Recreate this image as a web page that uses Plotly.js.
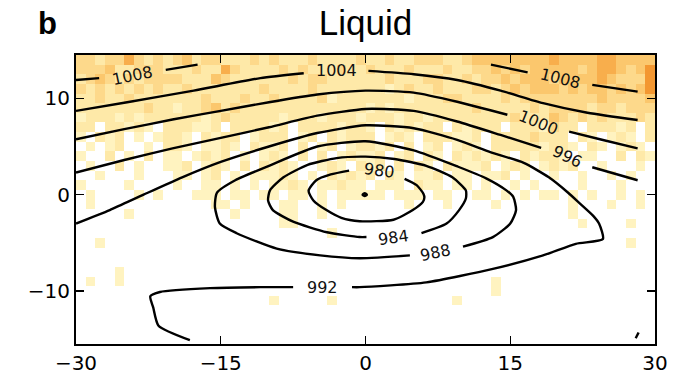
<!DOCTYPE html>
<html><head><meta charset="utf-8">
<script src="https://cdn.plot.ly/plotly-3.0.1.min.js"></script>
<style>html,body{margin:0;padding:0;background:#fff}</style>
</head><body>
<div id="chart" style="width:675px;height:382px"></div>
<script>
// Liquid occurrence levels (0 = none .. 6 = most), one string per row, top row y=14 down to y=-15; columns x=-30..30 (1 deg cells)
const Z0 = "0000000000 0000000000 0000000000 0000000000 0000000000 0000000000";
const liquidRows = [
  "3323353232 3423322232 3222322223 2232233322 3444444445 4444554444", // 14
  "3334223332 2232253222 2323222322 3222322232 2334343444 4434554346", // 13
  "2343232333 3222432222 2232332222 2232223322 3233434443 4444543336", // 12
  "3232323232 2322222223 2222322222 2212322322 2332343444 3434434346", // 11
  "2232232222 2223222322 3222231222 2222122233 2222323333 3333433334", // 10
  "2222222322 1223423222 2222222222 1212222222 2322222323 3332332333", // 9
  "1222121222 2221232222 2122212221 2221221222 2222232224 3232322232", // 8
  "2202212102 2211202222 1202222122 1021212202 1222022213 2202221202", // 7
  "1021201012 2102122012 2201202122 2012102221 1202222322 2021012102", // 6
  "0101200102 2101121021 1202012012 2120201201 2102222212 2102101210", // 5
  "1002010201 1012120101 2102020121 1201202102 1212102122 1011002021", // 4
  "0100201001 1201210202 1210012102 1202021021 1120121012 1200100010", // 3
  "0010001000 1101201011 1210102121 2021011201 1011201001 0010010100", // 2
  "1000010000 1001101010 1121011211 0111021101 1010010100 0010001000", // 1
  "0100001010 0011101101 1011010111 1101110110 0110101011 0101001010", // 0
  "0100000000 0000110100 0110010100 0000100010 0001000000 0100010010", // -1
  "0000010000 0000001000 0110010000 0000000000 0000000000 0100000000", // -2
  "0000000000 0000000000 0110000000 0000000000 0000000000 0010000100", // -3
  "0000000000 0000000000 0000001000 0000000000 0000000000 0000000000", // -4
  "0010000000 0000000000 0000000000 0000000000 0000000000 0000000100", // -5
  Z0, // -6
  Z0, // -7
  "0000100000 0000000000 0000000000 0000000000 0000000000 0000000000", // -8
  "0100100000 0000000000 0000000000 0000000000 0001000000 0000000000", // -9
  "0000000000 0000000000 0000000000 0000000000 0001000000 0000000000", // -10
  "0000000000 0000000000 1000001000 0000000001 0000000000 0000000000", // -11
  Z0, Z0, Z0, Z0 // -12 .. -15
];

// Sea-level pressure contours (hPa); null = gap for the inline label
const c1008aX = [-30, -27.6, null, -20.7, -17.4];
const c1008aY = [11.9, 12.1, null, 12.95, 13.5];
const c1008bX = [13.0, 16.8, null, 23.5, 28.2];
const c1008bY = [13.5, 12.7, null, 11.4, 10.7];
const c1004X = [-30, -24.7, -17.8, -10.9, -6.4, null, 0.3, 5, 9.5, 14, 18.4, 23, 28.2];
const c1004Y = [8.7, 9.6, 10.8, 12.1, 12.6, null, 12.85, 12.5, 11.9, 10.8, 9.5, 8.5, 7.75];
const c1000X = [-30, -25, -20, -15, -10, -5, 0, 5, 9.5, 14.7, null, 21.1, 24.5, 28.2];
const c1000Y = [5.75, 6.8, 7.8, 8.7, 9.6, 10.4, 10.8, 10.6, 9.65, 8.3, null, 6.55, 5.7, 4.8];
const c996X = [-30, -25, -20, -15, -10, -5, 0, 5, 9.5, 14, 18.2, null, 23.5, 28.2];
const c996Y = [2.3, 3.6, 4.8, 5.9, 7.0, 8.2, 8.9, 8.7, 7.6, 6.2, 4.85, null, 2.85, 1.5];
const c992X = [-30, -26.5, -23, -19, -15, -10, -5, 0, 5, 9.5, 13, 16.4, 19, 21, 22.2, 23.6, 24.2, 24.6, 21.8, 18.4, 13.2, 6.3, -0.6, -1.4, null, -7.5, -10.9, -16.1, -21.3, -22.3, -22.0, -21.45, -18.2];
const c992Y = [-3.0, -1.6, 0, 1.8, 3.4, 5.0, 6.4, 7.2, 6.9, 5.7, 4.4, 3.3, 1.8, 0.2, -0.9, -2.2, -3.0, -4.6, -5.1, -6.3, -7.7, -9.1, -9.6, -9.6, null, -9.6, -9.6, -9.7, -10.1, -10.55, -11.7, -13.6, -15.1];
const c988X = [10.1, 13.2, 15.0, 15.6, 15.3, 14.6, 12.5, 9.6, 5, 0, -5, -10, -13.5, -15.4, -15.6, -15.1, -13.35, -9.2, -4.7, -0.6, 4.6];
const c988Y = [-5.4, -4.4, -3.0, -1.6, -0.2, 0.45, 1.7, 2.9, 4.6, 5.55, 5.0, 3.0, 1.5, 0.2, -1.3, -3.0, -4.0, -5.6, -6.3, -6.6, -6.3];
const c984X = [5.8, 8.4, 9.7, 10.4, 10.4, 9, 6.3, 3, 0, -3, -6, -8.5, -9.9, -10.1, -9.6, -7.5, -4.0, -0.6, 0.1];
const c984Y = [-4.0, -3.0, -1.6, -0.4, 0.45, 1.8, 3.0, 3.7, 3.95, 3.8, 3.1, 1.8, 0.45, -0.6, -1.6, -2.8, -3.9, -4.4, -4.4];
const c980X = [4.05, 5.3, 6.0, 6.1, 5.95, 4.9, 2.9, -0.6, -2.5, -4.05, -5.4, -5.9, -5.1, -3.6, -1.7];
const c980Y = [1.65, 1.0, 0.1, -0.3, -0.75, -1.6, -2.6, -2.75, -2.4, -1.6, -0.6, 0.4, 1.5, 2.1, 2.5];
const c976X = [-0.3, -0.08, 0.14, -0.08, -0.3];
const c976Y = [0, 0.15, 0, -0.15, 0];
const cCornerX = [28.0, 28.3];
const cCornerY = [-14.9, -14.3];

const labelText = ["1008", "1008", "1004", "1000", "996", "992", "988", "984", "980"];
const labelX = [-24.1, 20.2, -3.0, 17.9, 20.9, -4.5, 7.3, 2.95, 1.45];
const labelY = [12.35, 12.1, 12.9, 7.5, 3.95, -9.6, -5.95, -4.4, 2.55];
const labelAngle = [-12, 14, 0, 22, 25, 0, -12, -8, 8];

const xTicks = [-30, -15, 0, 15, 30];
const xTickText = ["\u221230", "\u221215", "0", "15", "30"];
const yTicks = [-10, 0, 10];
const yTickText = ["\u221210", "0", "10"];

const levelColors = ['#ffffff', '#fff3c0', '#fee9a8', '#fdd98b', '#fbc76d', '#f8ae4c', '#f39731'];

const z = liquidRows.slice().reverse().map(r => r.replace(/\s/g, '').split('').map(Number));
const cs = [];
levelColors.forEach((c, i) => { cs.push([i / levelColors.length, c]); cs.push([(i + 1) / levelColors.length, c]); });

const traces = [{
  type: 'heatmap', z: z, x0: -29.5, dx: 1, y0: -15, dy: 1,
  zmin: -0.5, zmax: 6.5, colorscale: cs, showscale: false, hoverinfo: 'skip'
}];
const lines = [[c1008aX, c1008aY], [c1008bX, c1008bY], [c1004X, c1004Y], [c1000X, c1000Y], [c996X, c996Y],
  [c992X, c992Y], [c988X, c988Y], [c984X, c984Y], [c980X, c980Y], [c976X, c976Y], [cCornerX, cCornerY]];
lines.forEach(([xs, ys]) => traces.push({
  type: 'scatter', mode: 'lines', x: xs, y: ys, connectgaps: false, hoverinfo: 'skip', showlegend: false,
  line: {color: '#000', width: 2.4, shape: 'spline', smoothing: 0.6}
}));

const annotations = labelText.map((t, i) => ({
  x: labelX[i], y: labelY[i], xref: 'x', yref: 'y', text: t, showarrow: false, textangle: labelAngle[i],
  font: {family: 'DejaVu Sans', size: 16, color: '#111'}
}));
annotations.push({
  x: -0.05, y: 1.11, xref: 'paper', yref: 'paper', text: '<b>b</b>', showarrow: false,
  xanchor: 'center', yanchor: 'middle', font: {family: 'Liberation Sans', size: 31, color: '#000'}
});

const axisCommon = {
  showgrid: false, zeroline: false, showline: true, linecolor: '#000', linewidth: 2, mirror: 'ticks',
  ticks: 'inside', ticklen: 8, tickwidth: 1.3, tickcolor: '#000',
  tickfont: {family: 'DejaVu Sans', size: 20, color: '#000'}
};
const layout = {
  width: 675, height: 382,
  margin: {l: 76, r: 20, t: 55, b: 38},
  paper_bgcolor: '#fff', plot_bgcolor: '#fff',
  title: {text: 'Liquid', x: 0.5, xref: 'paper', xanchor: 'center', y: 0.94, yanchor: 'middle',
    font: {family: 'Liberation Sans', size: 35, color: '#000'}},
  xaxis: Object.assign({}, axisCommon, {range: [-30, 30], tickvals: xTicks, ticktext: xTickText}),
  yaxis: Object.assign({}, axisCommon, {range: [-15.5, 14.5], tickvals: yTicks, ticktext: yTickText}),
  annotations: annotations,
  showlegend: false
};
Plotly.newPlot('chart', traces, layout, {staticPlot: true, displayModeBar: false});
</script>
</body></html>
